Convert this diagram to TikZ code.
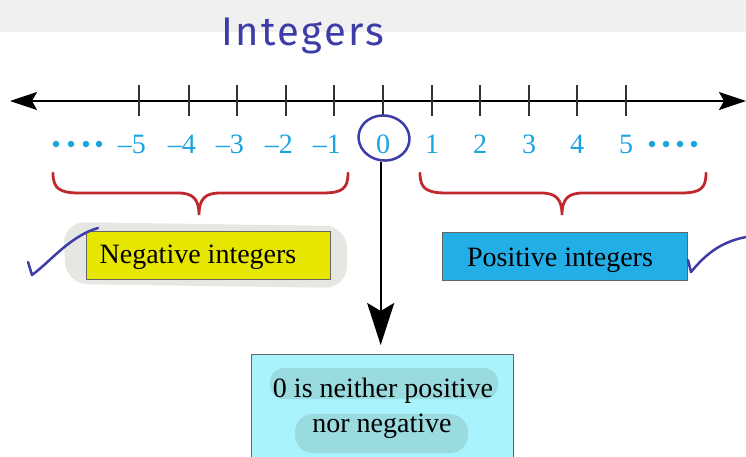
\documentclass[tikz,border=0pt]{standalone}
\usepackage{fontspec}
\setmainfont{Liberation Serif}
\newfontfamily\handfont[LetterSpace=6]{Fira Sans}
\usetikzlibrary{shapes.geometric,arrows.meta}
\definecolor{numblue}{HTML}{1AA3E0}
\definecolor{penblue}{HTML}{3E3CA6}
\definecolor{bracered}{HTML}{C0282D}
\definecolor{negyellow}{HTML}{E6E600}
\definecolor{posblue}{HTML}{22AEE6}
\definecolor{zerocyan}{HTML}{A8F3FC}
\definecolor{hlteal}{HTML}{99DBDF}
\definecolor{hlgray}{HTML}{E6E6E2}
\definecolor{bandgray}{HTML}{F0F0F0}
\definecolor{boxedge}{HTML}{666666}
\tikzset{
  big/.style={font=\fontsize{28}{34}\selectfont},
  numlabel/.style={big, text=numblue, inner sep=0pt},
  tickmark/.style={draw=black!80, line width=1.3pt},
  numline/.style={line width=2pt, {Stealth[length=27pt,width=18pt,inset=5pt]}-{Stealth[length=27pt,width=18pt,inset=5pt]}},
  brace/.style={draw=bracered, line width=2.8pt, line cap=round},
  infobox/.style={big, draw=boxedge, line width=1pt, inner sep=0pt, minimum height=48pt},
  pen/.style={draw=penblue, line width=2.5pt, line cap=round, line join=round},
  downarrow/.style={line width=2.2pt, -{Stealth[length=42pt,width=27pt,inset=8pt]}},
  hdot/.style={circle, fill=numblue, inner sep=0pt, minimum size=6.5pt}
}
\begin{document}
\begin{tikzpicture}[x=1pt,y=-1pt]
\useasboundingbox (0,0) rectangle (746,456);
% top band
\fill[bandgray] (0,0) rectangle (746,32);
% title
\node[anchor=base, text=penblue, inner sep=0pt, font=\handfont\fontsize{40}{46}\selectfont] (title) at (303,45) {Integers};
% number line
\coordinate (L) at (10,101);
\coordinate (R) at (746,101);
\draw[numline] (L) -- (R);
\foreach \n/\x in {m5/139,m4/189,m3/237,m2/286,m1/334,z/383,p1/432,p2/480,p3/529,p4/577,p5/626}{
  \coordinate (t\n) at (\x,85);
  \coordinate (b\n) at (\x,116);
  \draw[tickmark] (t\n) -- (b\n);
}
\foreach \n/\x/\v in {m5/139/5,m4/189/4,m3/237/3,m2/286/2,m1/334/1}{
  \node[numlabel, anchor=base east] (l\n) at (\x+7,153) {–\v};
}
\foreach \n/\x/\v in {z/383/0,p1/432/1,p2/480/2,p3/529/3,p4/577/4,p5/626/5}{
  \node[numlabel, anchor=base] (l\n) at (\x,153) {\v};
}
% dots
\foreach \i/\x in {1/56,2/71,3/86,4/99}{\node[hdot] (dl\i) at (\x,144) {};}
\foreach \i/\x in {1/652,2/666,3/680,4/694}{\node[hdot] (dr\i) at (\x,144) {};}
% circle around 0
\node[ellipse, draw=penblue, line width=2.5pt, minimum width=51pt, minimum height=45pt, inner sep=0pt, rotate=-8] (circ) at (384,138) {};
% braces
\draw[brace] (53,173) .. controls (53,189) and (60,193) .. (80,193) -- (178,193)
  .. controls (193,193) and (199,199) .. (199,215)
  .. controls (199,199) and (205,193) .. (220,193) -- (322,193)
  .. controls (342,193) and (348,189) .. (348,173);
\draw[brace] (420,173) .. controls (420,189) and (427,193) .. (447,193) -- (541,193)
  .. controls (556,193) and (562,199) .. (562,215)
  .. controls (562,199) and (568,193) .. (583,193) -- (680,193)
  .. controls (700,193) and (706,189) .. (706,173);
% negative box with highlight
\fill[hlgray, rounded corners=22pt] (63,222) -- (347,226) -- (347,288) -- (66,284) -- cycle;
\node[infobox, fill=negyellow, minimum width=244pt] (neg) at (208,255) {};
\node[big, anchor=base, inner sep=0pt] (negtext) at (198,263) {Negative integers};
% positive box
\node[infobox, fill=posblue, minimum width=245pt] (pos) at (564.5,256) {};
\node[big, anchor=base, inner sep=0pt] (postext) at (560,266) {Positive integers};
% pen strokes
\coordinate (pa) at (28,262);
\coordinate (pb) at (32,275);
\coordinate (pc) at (98,228);
\draw[pen] (pa) -- (pb) .. controls (50,262) and (70,236) .. (pc);
\coordinate (qa) at (688,260);
\coordinate (qb) at (691,272);
\coordinate (qc) at (746,237);
\draw[pen] (qa) -- (qb) .. controls (705,255) and (720,242) .. (qc);
% zero box
\node[infobox, fill=zerocyan, minimum width=262pt, minimum height=120pt, anchor=north] (zero) at (382,354) {};
\fill[hlteal, rounded corners=14pt] (270,368) rectangle (498,399);
\fill[hlteal, rounded corners=18pt] (295,414) rectangle (468,453);
\node[big, anchor=base, inner sep=0pt] (z1) at (383,397) {0 is neither positive};
\node[big, anchor=base, inner sep=0pt] (z2) at (382,432) {nor negative};
% arrow from 0 to box
\draw[downarrow, shorten >=9pt] (circ.south) -- (circ.south |- zero.north);
\end{tikzpicture}
\end{document}
